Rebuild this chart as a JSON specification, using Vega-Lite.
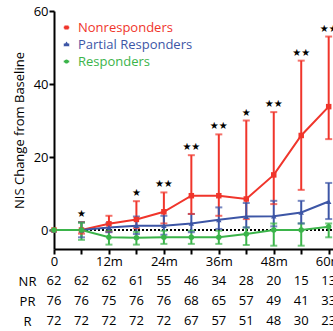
{
  "$schema": "https://vega.github.io/schema/vega-lite/v6.json",
  "padding": {"left": 13, "top": 5, "right": 0, "bottom": 0},
  "background": "white",
  "spacing": 3,
  "config": {
    "font": "Open Sans",
    "view": {"stroke": null},
    "axis": {"labelFont": "Open Sans", "titleFont": "Open Sans", "labelColor": "black", "titleColor": "black", "labelFontSize": 13, "titleFontSize": 13, "titleFontWeight": "normal", "grid": false, "domainColor": "black", "tickColor": "black", "domainWidth": 2, "tickWidth": 2}
  },
  "datasets": {
    "series": [
      {"group": "Nonresponders", "month": 0, "value": 0, "lo": 0, "hi": 0, "sig": ""},
      {"group": "Nonresponders", "month": 6, "value": 0, "lo": -1, "hi": 2.2, "sig": "★"},
      {"group": "Nonresponders", "month": 12, "value": 1.7, "lo": -0.5, "hi": 3.9, "sig": ""},
      {"group": "Nonresponders", "month": 18, "value": 2.9, "lo": 0.5, "hi": 7.9, "sig": "★"},
      {"group": "Nonresponders", "month": 24, "value": 5.0, "lo": 1.8, "hi": 10.3, "sig": "★★"},
      {"group": "Nonresponders", "month": 30, "value": 9.4, "lo": 4.4, "hi": 20.5, "sig": "★★"},
      {"group": "Nonresponders", "month": 36, "value": 9.4, "lo": 3.9, "hi": 26.2, "sig": "★★"},
      {"group": "Nonresponders", "month": 42, "value": 8.5, "lo": 3.0, "hi": 30.0, "sig": "★"},
      {"group": "Nonresponders", "month": 48, "value": 15.1, "lo": 7.1, "hi": 32.3, "sig": "★★"},
      {"group": "Nonresponders", "month": 54, "value": 25.9, "lo": 11.0, "hi": 46.4, "sig": "★★"},
      {"group": "Nonresponders", "month": 60, "value": 33.8, "lo": 24.9, "hi": 53.0, "sig": "★★"},
      {"group": "Partial Responders", "month": 0, "value": 0, "lo": 0, "hi": 0, "sig": ""},
      {"group": "Partial Responders", "month": 6, "value": 0, "lo": -2, "hi": 2.1, "sig": ""},
      {"group": "Partial Responders", "month": 12, "value": 0.7, "lo": -0.6, "hi": 1.9, "sig": ""},
      {"group": "Partial Responders", "month": 18, "value": 1.2, "lo": -1.1, "hi": 3.7, "sig": ""},
      {"group": "Partial Responders", "month": 24, "value": 1.2, "lo": -1.3, "hi": 3.9, "sig": ""},
      {"group": "Partial Responders", "month": 30, "value": 1.8, "lo": -0.6, "hi": 4.4, "sig": ""},
      {"group": "Partial Responders", "month": 36, "value": 2.8, "lo": 0.3, "hi": 6.2, "sig": ""},
      {"group": "Partial Responders", "month": 42, "value": 3.7, "lo": 0.7, "hi": 7.4, "sig": ""},
      {"group": "Partial Responders", "month": 48, "value": 3.8, "lo": 1.0, "hi": 8.0, "sig": ""},
      {"group": "Partial Responders", "month": 54, "value": 4.8, "lo": 1.8, "hi": 8.0, "sig": ""},
      {"group": "Partial Responders", "month": 60, "value": 7.8, "lo": 3.0, "hi": 12.9, "sig": ""},
      {"group": "Responders", "month": 0, "value": 0, "lo": 0, "hi": 0, "sig": ""},
      {"group": "Responders", "month": 6, "value": 0, "lo": -2.7, "hi": 2.0, "sig": ""},
      {"group": "Responders", "month": 12, "value": -2.0, "lo": -4.0, "hi": -0.2, "sig": ""},
      {"group": "Responders", "month": 18, "value": -2.1, "lo": -4.0, "hi": -0.5, "sig": ""},
      {"group": "Responders", "month": 24, "value": -2.0, "lo": -3.8, "hi": -0.2, "sig": ""},
      {"group": "Responders", "month": 30, "value": -2.0, "lo": -3.8, "hi": -0.2, "sig": ""},
      {"group": "Responders", "month": 36, "value": -2.0, "lo": -3.8, "hi": -0.2, "sig": ""},
      {"group": "Responders", "month": 42, "value": -1.1, "lo": -4.1, "hi": 0.7, "sig": ""},
      {"group": "Responders", "month": 48, "value": 0.0, "lo": -4.3, "hi": 1.8, "sig": ""},
      {"group": "Responders", "month": 54, "value": 0.0, "lo": -4.3, "hi": 1.8, "sig": ""},
      {"group": "Responders", "month": 60, "value": 0.9, "lo": -2.0, "hi": 1.8, "sig": ""}
    ],
    "counts": [
      {"row": "NR", "month": 0, "n": 62}, {"row": "NR", "month": 6, "n": 62}, {"row": "NR", "month": 12, "n": 62},
      {"row": "NR", "month": 18, "n": 61}, {"row": "NR", "month": 24, "n": 55}, {"row": "NR", "month": 30, "n": 46},
      {"row": "NR", "month": 36, "n": 34}, {"row": "NR", "month": 42, "n": 28}, {"row": "NR", "month": 48, "n": 20},
      {"row": "NR", "month": 54, "n": 15}, {"row": "NR", "month": 60, "n": 13},
      {"row": "PR", "month": 0, "n": 76}, {"row": "PR", "month": 6, "n": 76}, {"row": "PR", "month": 12, "n": 75},
      {"row": "PR", "month": 18, "n": 76}, {"row": "PR", "month": 24, "n": 76}, {"row": "PR", "month": 30, "n": 68},
      {"row": "PR", "month": 36, "n": 65}, {"row": "PR", "month": 42, "n": 57}, {"row": "PR", "month": 48, "n": 49},
      {"row": "PR", "month": 54, "n": 41}, {"row": "PR", "month": 60, "n": 33},
      {"row": "R", "month": 0, "n": 72}, {"row": "R", "month": 6, "n": 72}, {"row": "R", "month": 12, "n": 72},
      {"row": "R", "month": 18, "n": 72}, {"row": "R", "month": 24, "n": 72}, {"row": "R", "month": 30, "n": 67},
      {"row": "R", "month": 36, "n": 57}, {"row": "R", "month": 42, "n": 51}, {"row": "R", "month": 48, "n": 48},
      {"row": "R", "month": 54, "n": 30}, {"row": "R", "month": 60, "n": 23}
    ]
  },
  "vconcat": [
    {
      "width": 293,
      "height": 238,
      "data": {"name": "series"},
      "encoding": {
        "x": {"field": "month", "type": "quantitative", "scale": {"domain": [0, 64], "nice": false, "zero": false},
          "axis": {"title": null, "values": [0, 6, 12, 18, 24, 30, 36, 42, 48, 54, 60], "labelExpr": "datum.value == 0 ? '0' : (datum.value % 12 == 0 ? datum.value + 'm' : '')", "tickSize": 5, "labelPadding": 1, "labelFlush": false, "labelOverlap": false}},
        "color": {"field": "group", "type": "nominal", "scale": {"domain": ["Nonresponders", "Partial Responders", "Responders"], "range": ["#f0352b", "#3d56a6", "#3bb44a"]},
          "legend": {"orient": "none", "legendX": 6, "legendY": 10, "title": null, "labelFontSize": 13, "labelFont": "Open Sans", "symbolSize": 100, "rowPadding": 3, "labelOffset": 5, "symbolStrokeWidth": 2,
            "symbolType": "M-0.55,0H0.55M-0.2,-0.2H0.2V0.2H-0.2Z",
            "encode": {
              "labels": {"update": {"fill": {"scale": "color", "field": "value"}}},
              "symbols": {"update": {"shape": {"signal": "datum.value === 'Nonresponders' ? 'M-0.55,0H0.55M-0.2,-0.2H0.2V0.2H-0.2Z' : (datum.value === 'Partial Responders' ? 'M-0.55,0H0.55M0,-0.22L0.24,0.16H-0.24Z' : 'M-0.55,0H0.55M-0.2,0A0.2,0.2 0 1,0 0.2,0A0.2,0.2 0 1,0 -0.2,0')"}, "stroke": {"scale": "color", "field": "value"}, "fill": {"scale": "color", "field": "value"}, "strokeWidth": {"value": 2}}}
            }}}
      },
      "layer": [
        {
          "mark": {"type": "rule", "strokeDash": [1.5, 2.5], "strokeWidth": 1.5, "color": "black"},
          "encoding": {"y": {"datum": 0, "type": "quantitative"}, "x": {"datum": 0}, "x2": {"datum": 64}, "color": {"value": "black"}}
        },
        {
          "mark": {"type": "rule", "strokeWidth": 2},
          "encoding": {
            "y": {"field": "lo", "type": "quantitative", "scale": {"domain": [-5.2, 60], "nice": false, "zero": false},
              "axis": {"title": "NIS Change from Baseline", "values": [0, 20, 40, 60], "tickSize": 5, "labelPadding": 1, "titlePadding": 7, "labelFlush": false}},
            "y2": {"field": "hi"}
          }
        },
        {
          "mark": {"type": "tick", "orient": "horizontal", "size": 7, "thickness": 2},
          "encoding": {"y": {"field": "hi", "type": "quantitative"}}
        },
        {
          "mark": {"type": "tick", "orient": "horizontal", "size": 7, "thickness": 2},
          "encoding": {"y": {"field": "lo", "type": "quantitative"}}
        },
        {
          "mark": {"type": "line", "strokeWidth": 2},
          "encoding": {"y": {"field": "value", "type": "quantitative"}}
        },
        {
          "transform": [{"filter": "datum.group == 'Nonresponders'"}],
          "mark": {"type": "point", "filled": true, "opacity": 1, "size": 30, "shape": "square"},
          "encoding": {"y": {"field": "value", "type": "quantitative"}}
        },
        {
          "transform": [{"filter": "datum.group == 'Partial Responders'"}],
          "mark": {"type": "point", "filled": true, "opacity": 1, "size": 30, "shape": "triangle-up"},
          "encoding": {"y": {"field": "value", "type": "quantitative"}}
        },
        {
          "transform": [{"filter": "datum.group == 'Responders'"}],
          "mark": {"type": "point", "filled": true, "opacity": 1, "size": 30, "shape": "circle"},
          "encoding": {"y": {"field": "value", "type": "quantitative"}}
        },
        {
          "transform": [{"filter": "datum.sig != ''"}],
          "mark": {"type": "text", "font": "DejaVu Sans", "fontSize": 10, "dy": -8, "baseline": "middle", "color": "black"},
          "encoding": {"y": {"field": "hi", "type": "quantitative"}, "text": {"field": "sig"}, "color": {"value": "black"}}
        }
      ]
    },
    {
      "width": 293,
      "height": 60,
      "data": {"name": "counts"},
      "mark": {"type": "text", "fontSize": 13, "font": "Open Sans", "color": "black", "baseline": "middle"},
      "encoding": {
        "x": {"field": "month", "type": "quantitative", "scale": {"domain": [0, 64], "nice": false, "zero": false}, "axis": null},
        "y": {"field": "row", "type": "ordinal", "sort": ["NR", "PR", "R"], "scale": {"paddingInner": 0, "paddingOuter": 0},
          "axis": {"title": null, "domain": false, "ticks": false, "labelAlign": "center", "labelPadding": 27, "labelFontSize": 13}},
        "text": {"field": "n"}
      }
    }
  ]
}
